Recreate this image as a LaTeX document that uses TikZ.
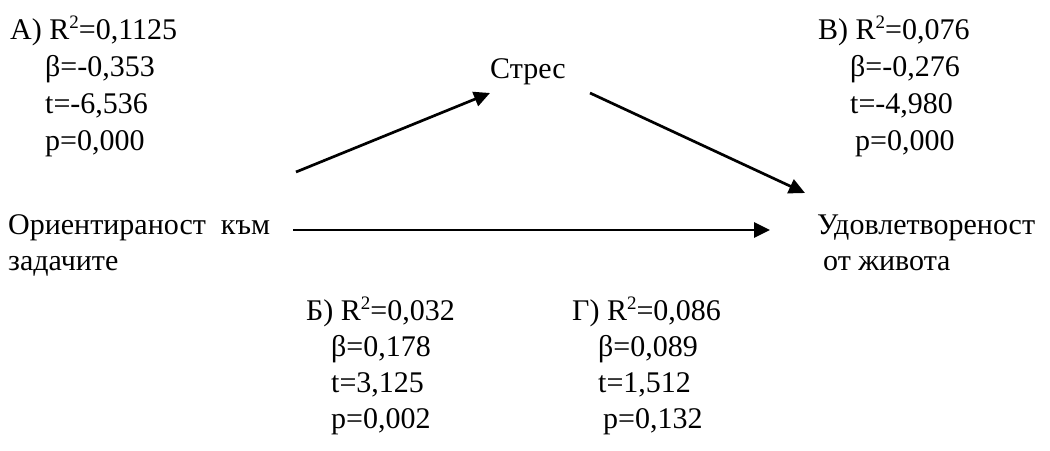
\documentclass[tikz,border=0pt]{standalone}
\usepackage{fontspec}
\setmainfont{Liberation Serif}
\usetikzlibrary{arrows.meta}
\newcommand{\sqr}{\raisebox{0.36em}{\fontsize{19}{19}\selectfont 2}}
\tikzset{
  txt/.style={anchor=base west, inner sep=0pt, font=\fontsize{30}{36}\selectfont},
  arr/.style={line width=2.7pt, -{Triangle[length=16pt,width=15pt]}}
}
\begin{document}
\begin{tikzpicture}[x=1pt,y=-1pt]
\useasboundingbox (0,0) rectangle (1050,450);
% block A
\node[txt] (a1) at (10,39) {А) R\sqr=0,1125};
\node[txt] (a2) at (45,76) {β=-0,353};
\node[txt] (a3) at (45,113) {t=-6,536};
\node[txt] (a4) at (45,150) {p=0,000};
% block B
\node[txt] (b1) at (818,39) {В) R\sqr=0,076};
\node[txt] (b2) at (850,76) {β=-0,276};
\node[txt] (b3) at (850,113) {t=-4,980};
\node[txt] (b4) at (855,150) {p=0,000};
% variables
\node[txt] (stres) at (490,78) {Стрес};
\node[txt] (or1) at (8,234) {Ориентираност\ \ към};
\node[txt] (or2) at (8,270) {задачите};
\node[txt] (ud1) at (817,234) {Удовлетвореност};
\node[txt] (ud2) at (823,270) {от живота};
% block Б
\node[txt] (c1) at (306,320) {Б) R\sqr=0,032};
\node[txt] (c2) at (331,356) {β=0,178};
\node[txt] (c3) at (331,392) {t=3,125};
\node[txt] (c4) at (331,428) {p=0,002};
% block Г
\node[txt] (d1) at (572,320) {Г) R\sqr=0,086};
\node[txt] (d2) at (598,356) {β=0,089};
\node[txt] (d3) at (598,392) {t=1,512};
\node[txt] (d4) at (603,428) {p=0,132};
% arrows
\coordinate (p1s) at (296,172);
\coordinate (p1e) at (490,93);
\coordinate (p2s) at (590,93);
\coordinate (p2e) at (805,193);
\coordinate (p3s) at (293,230);
\coordinate (p3e) at (770,230);
\draw[arr] (p1s) -- (p1e);
\draw[arr] (p2s) -- (p2e);
\draw[arr] (p3s) -- (p3e);
\end{tikzpicture}
\end{document}
